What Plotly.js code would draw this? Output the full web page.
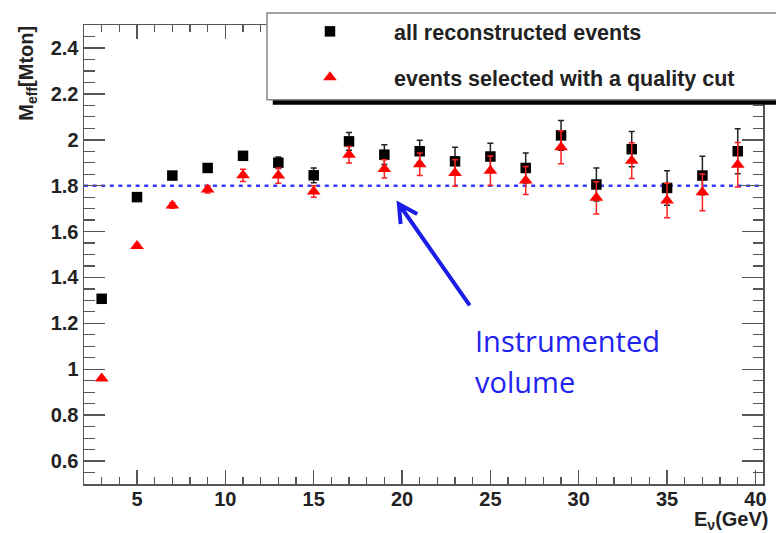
<!DOCTYPE html>
<html>
<head>
<meta charset="utf-8">
<script src="https://cdn.plot.ly/plotly-3.0.1.min.js"></script>
<style>
html,body{margin:0;padding:0;background:#fff;}
#chart{width:776px;height:533px;}
</style>
</head>
<body>
<div id="chart"></div>
<script>
// Neutrino energy bins (GeV)
const energy = [3, 5, 7, 9, 11, 13, 15, 17, 19, 21, 23, 25, 27, 29, 31, 33, 35, 37, 39];
// Effective mass, all reconstructed events (Mton)
const allEvents = [1.307, 1.75, 1.844, 1.877, 1.93, 1.90, 1.845, 1.993, 1.935, 1.95, 1.906, 1.927, 1.877, 2.019, 1.805, 1.959, 1.79, 1.844, 1.95];
const allErr = [0.005, 0.008, 0.01, 0.012, 0.015, 0.025, 0.032, 0.039, 0.043, 0.048, 0.061, 0.058, 0.065, 0.065, 0.072, 0.077, 0.075, 0.084, 0.098];
// Effective mass, events selected with a quality cut (Mton)
const qualityCut = [0.96, 1.537, 1.713, 1.783, 1.845, 1.844, 1.775, 1.935, 1.873, 1.893, 1.855, 1.865, 1.822, 1.967, 1.747, 1.909, 1.735, 1.771, 1.891];
const qualityErr = [0.005, 0.008, 0.012, 0.015, 0.027, 0.033, 0.025, 0.036, 0.04, 0.049, 0.058, 0.064, 0.061, 0.072, 0.07, 0.078, 0.075, 0.08, 0.097];
// Instrumented volume reference
const instrumentedVolume = 1.8;
const xRange = [2, 40.43];
const yRange = [0.5, 2.5];
const seriesNames = ["all reconstructed events", "events selected with a quality cut"];

const font = "Liberation Sans, Arial, Helvetica, sans-serif";

const traces = [
  {
    x: [xRange[0], xRange[1]],
    y: [instrumentedVolume, instrumentedVolume],
    mode: "lines",
    line: {color: "#3a3aff", width: 2.5, dash: "4px,4.6px"},
    showlegend: false,
    hoverinfo: "skip"
  },
  {
    x: energy, y: allEvents, name: seriesNames[0],
    mode: "markers", legendgroup: "a",
    marker: {symbol: "square", size: 10.5, color: "#000"},
    error_y: {type: "data", array: allErr, visible: true, color: "#222", thickness: 1.5, width: 3}
  },
  {
    x: energy, y: qualityCut, name: seriesNames[1],
    mode: "markers", legendgroup: "b",
    marker: {symbol: "triangle-up", size: 12, color: "#ff0000"},
    error_y: {type: "data", array: qualityErr, visible: true, color: "#ff2020", thickness: 1.5, width: 3}
  }
];

const axisCommon = {
  showline: true, linecolor: "#555", linewidth: 1.5,
  mirror: "ticks", ticks: "inside", tickcolor: "#555", tickwidth: 1.5,
  showgrid: false, zeroline: false,
  tickfont: {family: font, size: 20, color: "#222", weight: "bold"}
};

const layout = {
  width: 776, height: 533,
  margin: {l: 84, r: 13, t: 24, b: 49, pad: 0},
  paper_bgcolor: "#fff", plot_bgcolor: "#fff",
  showlegend: true,
  legend: {
    x: 0.268, y: 1.0285, xanchor: "left", yanchor: "top",
    bgcolor: "rgba(0,0,0,0)", borderwidth: 0,
    itemwidth: 118, tracegroupgap: 15,
    font: {family: font, size: 21.5, color: "#222", weight: "bold"}
  },
  xaxis: Object.assign({}, axisCommon, {
    range: xRange, tick0: 0, dtick: 5, ticklen: 14, ticklabelstandoff: -4,
    minor: {dtick: 1, ticklen: 7, tickcolor: "#555", tickwidth: 1.2, ticks: "inside"}
  }),
  yaxis: Object.assign({}, axisCommon, {
    range: yRange, tick0: 0, dtick: 0.2, ticklen: 21,
    minor: {dtick: 0.05, ticklen: 10.5, tickcolor: "#555", tickwidth: 1.2, ticks: "inside"}
  }),
  shapes: [
    {type: "rect", xref: "paper", yref: "paper", x0: 0.278, x1: 1.05, y0: 0.826, y1: 0.84,
     fillcolor: "#000", line: {width: 0}, layer: "above"},
    {type: "rect", xref: "paper", yref: "paper", x0: 0.2695, x1: 1.05, y0: 0.837, y1: 1.026,
     fillcolor: "#fff", line: {color: "#888", width: 1.5}, layer: "above"},
    {type: "path", xref: "x", yref: "y",
     path: "M 23.83,1.278 L 19.82,1.72 M 20.86,1.676 L 19.82,1.72 L 19.92,1.633",
     line: {color: "#1c1ce8", width: 4}, layer: "above"}
  ],
  annotations: [
    {text: "M<sub>eff</sub>[Mton]", xref: "paper", yref: "paper",
     x: -0.0825, y: 0.896, xanchor: "center", yanchor: "middle", textangle: -90,
     showarrow: false, font: {family: font, size: 20, color: "#222", weight: "bold"}},
    {text: "E<sub>ν</sub>(GeV)", xref: "paper", yref: "paper",
     x: 1.0103, y: -0.08, xanchor: "right", yanchor: "middle",
     showarrow: false, font: {family: font, size: 20, color: "#222", weight: "bold"}},
    {text: "Instrumented", xref: "paper", yref: "paper",
     x: 0.5735, y: 0.313, xanchor: "left", yanchor: "middle",
     showarrow: false, font: {family: "Open Sans, Noto Sans, sans-serif", size: 29, color: "#2222f0"}},
    {text: "volume", xref: "paper", yref: "paper",
     x: 0.5735, y: 0.224, xanchor: "left", yanchor: "middle",
     showarrow: false, font: {family: "Open Sans, Noto Sans, sans-serif", size: 29, color: "#2222f0"}}
  ]
};

Plotly.newPlot("chart", traces, layout, {displayModeBar: false, staticPlot: true});
</script>
</body>
</html>
